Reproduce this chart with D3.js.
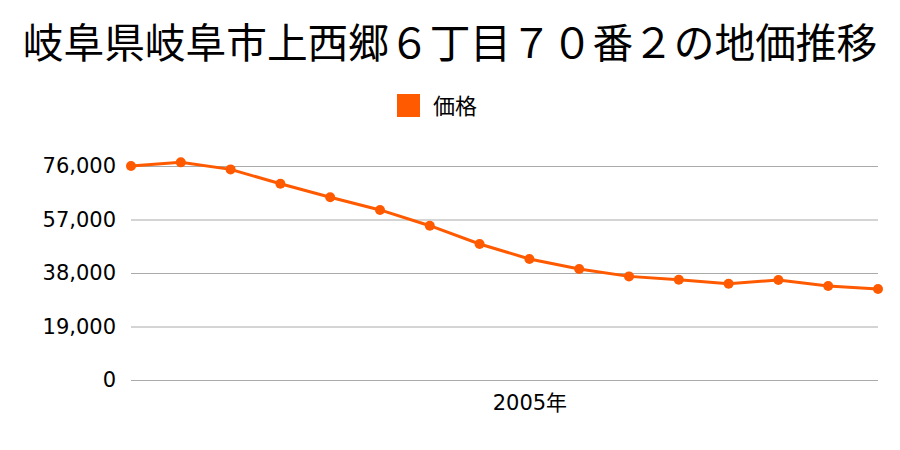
<!DOCTYPE html>
<html><head><meta charset="utf-8">
<script src="https://cdn.jsdelivr.net/npm/d3@7"></script>
<style>body{margin:0;background:#fff;font-family:"Noto Sans CJK JP","Noto Sans",sans-serif;}</style>
</head><body><svg id="c" width="900" height="450"></svg>
<script>
const title = "岐阜県岐阜市上西郷６丁目７０番２の地価推移";
const seriesName = "価格";
const years = [1997,1998,1999,2000,2001,2002,2003,2004,2005,2006,2007,2008,2009,2010,2011,2012];
const values = [76000,77300,74800,69700,64900,60400,54800,48300,43000,39400,36800,35600,34200,35500,33400,32300];
const yTicks = [0,19000,38000,57000,76000];
const xLabels = [2005];

const svg = d3.select("#c");
const color = "#ff5a00";
const numFont = "'DejaVu Sans','Noto Sans CJK JP',sans-serif";
const x = d3.scaleLinear().domain([years[0], years[years.length-1]]).range([131, 878]);
const y = d3.scaleLinear().domain([0, 76000]).range([380, 166]);

svg.append("text").attr("x",450).attr("y",58).attr("text-anchor","middle")
  .attr("font-size",40.7).attr("fill","#000").text(title);

svg.append("rect").attr("x",397).attr("y",94).attr("width",23).attr("height",23).attr("fill",color);
svg.append("text").attr("x",433).attr("y",114).attr("font-size",22).attr("fill","#000").text(seriesName);

const yAxis = d3.axisLeft(y).tickValues(yTicks).tickSize(-(878-131)).tickPadding(15)
  .tickFormat(d3.format(","));
const gy = svg.append("g").attr("transform","translate(131,0)").call(yAxis);
gy.select(".domain").remove();
gy.selectAll(".tick line").attr("stroke","#aaa").attr("stroke-width",1);
gy.selectAll(".tick text").attr("font-size",21).attr("fill","#000").attr("font-family",numFont);

const xAxis = d3.axisBottom(x).tickValues(xLabels).tickSize(0).tickPadding(15).tickFormat(d=>d+"年");
const gx = svg.append("g").attr("transform","translate(0,380)").call(xAxis);
gx.select(".domain").remove();
gx.selectAll(".tick text").attr("font-size",21).attr("fill","#000").attr("font-family",numFont);

const line = d3.line().x((d,i)=>x(years[i])).y(d=>y(d));
svg.append("path").datum(values).attr("d",line).attr("fill","none")
  .attr("stroke",color).attr("stroke-width",3);
svg.selectAll("circle.p").data(values).join("circle").attr("class","p")
  .attr("cx",(d,i)=>x(years[i])).attr("cy",d=>y(d)).attr("r",5).attr("fill",color);
</script></body></html>
